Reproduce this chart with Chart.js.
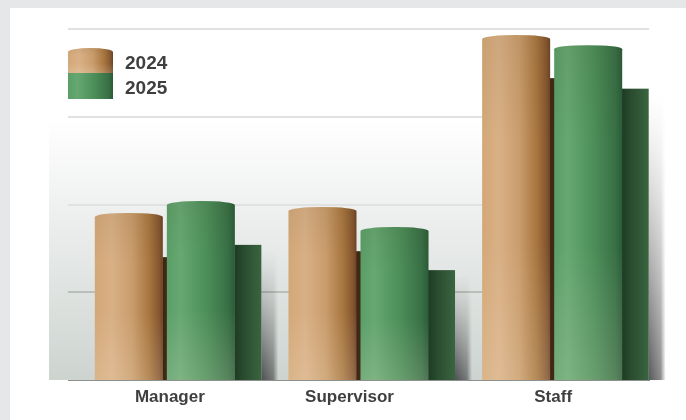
<!DOCTYPE html>
<html>
<head>
<meta charset="utf-8">
<script src="https://cdn.jsdelivr.net/npm/chart.js@4"></script>
<style>
  html, body { margin: 0; padding: 0; background: #e6e7e8; overflow: hidden; }
  #card { position: absolute; left: 10px; top: 8px; width: 676px; height: 412px; background: #fff; }
  #chart { position: absolute; left: 0; top: 0; }
</style>
</head>
<body>
<div id="card"></div>
<canvas id="chart" width="686" height="420"></canvas>
<script>
// Values, scale 0-100
var categories = ["Manager", "Supervisor", "Staff"];
var tickValues = [0, 25, 50, 75, 100];
var values2024 = [47.6, 49.3, 98.3];
var values2025 = [51, 43.6, 95.4];
var rear2024 = [35, 36.7, 86];
var rear2025 = [38.5, 31.3, 83];

var tanStops = [[0, "#d3a878"], [0.25, "#d9b086"], [0.55, "#c99c6c"], [0.8, "#a8763f"], [0.95, "#84552f"], [1, "#6a4425"]];
var greenStops = [[0, "#5a9e67"], [0.2, "#66a772"], [0.6, "#4b8d58"], [0.9, "#386f45"], [1, "#2a5c37"]];
var rearTanStops = [[0, "#3e2614"], [1, "#5a3a20"]];
var rearGreenStops = [[0, "#1e3a23"], [0.35, "#2a4c2f"], [1, "#3a6440"]];

var REAR_SHIFT = 47;                   // rear bars sit behind the right side of the front ones
var DOME = 4;
var labelShift = [5, -9, 1];           // the tick labels are not centred on their groups

function hGradient(ctx, x0, x1, stops) {
    var g = ctx.createLinearGradient(x0, 0, x1, 0);
    stops.forEach(function (s) { g.addColorStop(s[0], s[1]); });
    return g;
}

// Front bar: a cylinder with a shallow domed top
function paintCylinder(ctx, x0, x1, top, base, stops) {
    ctx.save();
    ctx.beginPath();
    ctx.moveTo(x0, base);
    ctx.lineTo(x0, top + DOME);
    ctx.ellipse((x0 + x1) / 2, top + DOME, (x1 - x0) / 2, DOME, 0, Math.PI, 2 * Math.PI);
    ctx.lineTo(x1, base);
    ctx.closePath();
    ctx.fillStyle = hGradient(ctx, x0, x1, stops);
    ctx.fill();
    var v = ctx.createLinearGradient(0, top, 0, base);
    v.addColorStop(0, "rgba(60,50,20,0.07)");
    v.addColorStop(0.3, "rgba(60,50,20,0)");
    v.addColorStop(0.6, "rgba(255,245,225,0)");
    v.addColorStop(1, "rgba(255,245,225,0.16)");
    ctx.fillStyle = v;
    ctx.fill();
    ctx.restore();
}

// Rear bar: flat top, soft shadow to the right that gets heavier towards the floor
function paintRear(ctx, x0, x1, top, base, stops) {
    ctx.save();
    ctx.fillStyle = hGradient(ctx, x1, x1 + 17, [[0, "rgba(45,45,48,0.8)"], [0.7, "rgba(45,45,48,0.55)"], [1, "rgba(45,45,48,0)"]]);
    for (var y = Math.round(top) + 6; y < base; y++) {
        ctx.globalAlpha = Math.pow((y - top) / (base - top), 1.4);
        ctx.fillRect(x1, y, 17, 1);
    }
    ctx.globalAlpha = 1;
    ctx.fillStyle = hGradient(ctx, x0, x1, stops);
    ctx.fillRect(x0, top, x1 - x0, base - top);
    ctx.restore();
}

var cylinderPlugin = {
    id: "cylinders",
    beforeDraw: function (chart) {
        var ctx = chart.ctx, area = chart.chartArea;
        var g = ctx.createLinearGradient(0, area.top + 90, 0, area.bottom);
        g.addColorStop(0, "rgba(255,255,255,1)");
        g.addColorStop(0.35, "#eef0ef");
        g.addColorStop(1, "#cdd4d0");
        ctx.fillStyle = g;
        ctx.fillRect(49, area.top, area.right - 49, area.bottom - area.top);
    },
    beforeDatasetDraw: function (chart, args) {
        var ctx = chart.ctx;
        var ds = chart.data.datasets[args.index];
        args.meta.data.forEach(function (el) {
            var x0 = el.x - el.width / 2, x1 = el.x + el.width / 2;
            if (ds.rear) {
                paintRear(ctx, x0 + REAR_SHIFT, x1 + REAR_SHIFT, el.y, el.base, ds.stops);
            } else {
                paintCylinder(ctx, x0, x1, el.y, el.base, ds.stops);
            }
        });
        return false;
    },
    afterDraw: function (chart) {
        var ctx = chart.ctx, xs = chart.scales.x;
        ctx.save();
        ctx.fillStyle = "#3f3f3f";
        ctx.font = "bold 17px 'Liberation Sans', Arial, sans-serif";
        ctx.textBaseline = "middle";
        ctx.textAlign = "center";
        categories.forEach(function (c, i) {
            ctx.fillText(c, xs.getPixelForTick(i) + labelShift[i], 397);
        });
        // legend
        paintCylinder(ctx, 68, 113, 48, 73, tanStops);
        ctx.fillStyle = hGradient(ctx, 68, 113, greenStops);
        ctx.fillRect(68, 73, 45, 26);
        ctx.fillStyle = "#3f3f3f";
        ctx.font = "bold 19px 'Liberation Sans', Arial, sans-serif";
        ctx.textAlign = "left";
        ctx.fillText(chart.data.datasets[0].label, 125, 64);
        ctx.fillText(chart.data.datasets[1].label, 125, 89);
        ctx.restore();
    }
};

new Chart(document.getElementById("chart"), {
    type: "bar",
    plugins: [cylinderPlugin],
    data: {
        labels: categories,
        datasets: [
            { label: "2024", data: values2024, stops: tanStops, order: 1, stack: "a" },
            { label: "2025", data: values2025, stops: greenStops, order: 1, stack: "b" },
            { label: "2024 rear", data: rear2024, stops: rearTanStops, rear: true, order: 2, stack: "a", barPercentage: 0.375 },
            { label: "2025 rear", data: rear2025, stops: rearGreenStops, rear: true, order: 2, stack: "b", barPercentage: 0.375 }
        ]
    },
    options: {
        responsive: false,
        animation: false,
        layout: { padding: { left: 68, right: 37, top: 29, bottom: 32 } },
        categoryPercentage: 0.744,
        barPercentage: 0.944,
        plugins: { legend: { display: false }, tooltip: { enabled: false } },
        scales: {
            x: {
                stacked: true,   // only so that front and rear bars share a slot
                grid: { display: false },
                border: { display: true, color: "#8d918e", width: 1 },
                ticks: { display: false }
            },
            y: {
                stacked: false,
                min: 0,
                max: 100,
                afterBuildTicks: function (axis) {
                    axis.ticks = tickValues.map(function (v) { return { value: v }; });
                },
                ticks: { display: false },
                border: { display: false },
                grid: {
                    drawTicks: false,
                    lineWidth: function (c) { return c.tick.value === 0 ? 0 : 2; },
                    color: function (c) {
                        return c.tick.value >= 50 ? "#e0e1e1" : "#b9bfbb";
                    }
                }
            }
        }
    }
});
</script>
</body>
</html>
